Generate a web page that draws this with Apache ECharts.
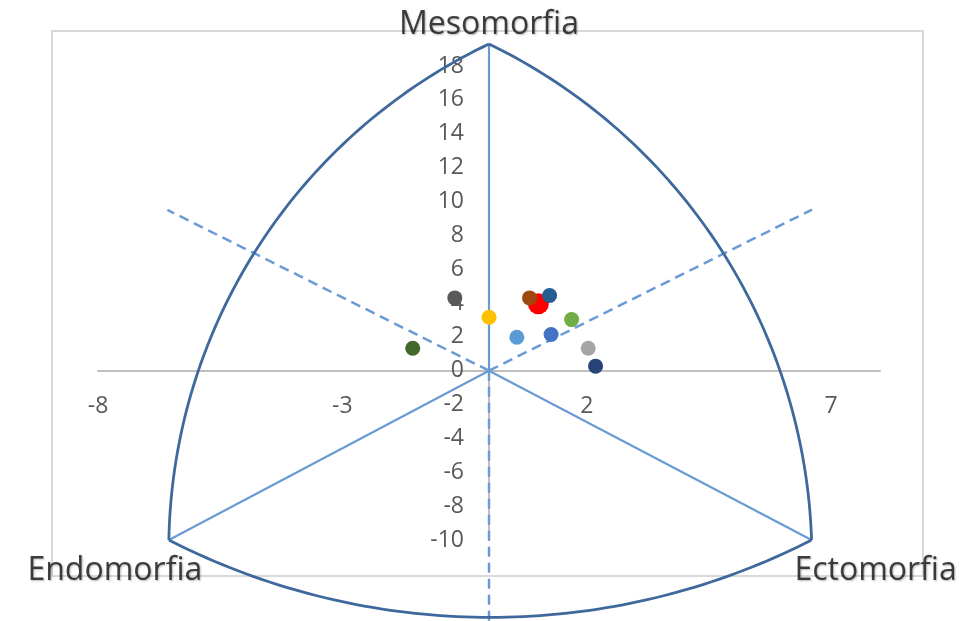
<!DOCTYPE html>
<html>
<head>
<meta charset="utf-8">
<title>Somatocarta</title>
<script src="https://cdn.jsdelivr.net/npm/echarts@6/dist/echarts.min.js"></script>
<style>
  html, body { margin: 0; padding: 0; background: #ffffff; }
  #chart { width: 961px; height: 621px; }
</style>
</head>
<body>
<div id="chart"></div>
<script>
// Somatotype points (x = ecto - endo, y = 2*meso - endo - ecto)
const subjectNames = ['Promedio', 'S1', 'S2', 'S3', 'S4', 'S5', 'S6', 'S7', 'S8', 'S9', 'S10'];
const subjectX = [1.01, -0.70, 0.00, -1.56, 0.83, 1.24, 0.57, 1.27, 1.69, 2.03, 2.18];
const subjectY = [3.95, 4.30, 3.16, 1.33, 4.30, 4.44, 1.98, 2.14, 3.02, 1.33, 0.27];

// Triangle vertices of the somatochart
const vertexNames = ['Mesomorfia', 'Endomorfia', 'Ectomorfia'];
const vertexX = [0, -6.55, 6.6];
const vertexY = [19.3, -10, -10];

// Dashed guide ends (from the origin)
const guideX = [-6.58, 6.61, 0];
const guideY = [9.5, 9.52, -15];

// Curved sides: start, a point on the side, end
const arcStart = [[0, 19.3], [-6.55, -10], [6.6, -10]];
const arcMid = [[-4.81, 6.93], [0, -14.57], [4.84, 6.73]];
const arcEnd = [[-6.55, -10], [6.6, -10], [0, 19.3]];

// Axis settings
const xMin = -8, xMax = 8, xStep = 5;
const yMin = -10, yMax = 18, yStep = 2;

// Styling
const pointColors = ['#FF0000', '#595959', '#FFC000', '#43682B', '#9E480E', '#255E91',
  '#5B9BD5', '#4472C4', '#70AD47', '#A5A5A5', '#264478'];
const arcColor = '#3F699C';
const innerColor = '#6A9BD3';
const axisGray = '#BFBFBF';
const labelGray = '#595959';
const fontFam = '"Open Sans", "Liberation Sans", sans-serif';

// Layout of the plotting grid
const gridLeft = 98, gridRight = 81, gridTop = 66, gridBottom = 81;
const W = 961, H = 621;
const plotW = W - gridLeft - gridRight, plotH = H - gridTop - gridBottom;
// shift the axes so they cross at (0, 0)
const xAxisShift = -plotH * (0 - yMin) / (yMax - yMin);
const yAxisShift = -plotW * (0 - xMin) / (xMax - xMin);

const chart = echarts.init(document.getElementById('chart'), null, { renderer: 'canvas' });

const seg = (x1, y1, x2, y2) => [[x1, y1], [x2, y2]];

const lineSeries = (data, color, width, type) => ({
  type: 'line',
  data: data,
  symbol: 'none',
  clip: false,
  silent: true,
  z: 3,
  lineStyle: { color: color, width: width, type: type || 'solid' }
});

// circular arc through three screen points
function arcPoints(p1, pm, p2) {
  const ax = p1[0], ay = p1[1], bx = pm[0], by = pm[1], cx = p2[0], cy = p2[1];
  const d = 2 * (ax * (by - cy) + bx * (cy - ay) + cx * (ay - by));
  const ux = ((ax * ax + ay * ay) * (by - cy) + (bx * bx + by * by) * (cy - ay) + (cx * cx + cy * cy) * (ay - by)) / d;
  const uy = ((ax * ax + ay * ay) * (cx - bx) + (bx * bx + by * by) * (ax - cx) + (cx * cx + cy * cy) * (bx - ax)) / d;
  const r = Math.hypot(ax - ux, ay - uy);
  const TAU = Math.PI * 2;
  const norm = a => ((a % TAU) + TAU) % TAU;
  const a1 = Math.atan2(ay - uy, ax - ux);
  const am = Math.atan2(by - uy, bx - ux);
  const a2 = Math.atan2(cy - uy, cx - ux);
  const d2 = norm(a2 - a1), dm = norm(am - a1);
  const sweep = dm < d2 ? d2 : d2 - TAU;
  const pts = [];
  const n = 80;
  for (let i = 0; i <= n; i++) {
    const a = a1 + sweep * i / n;
    pts.push([ux + r * Math.cos(a), uy + r * Math.sin(a)]);
  }
  return pts;
}

const series = [];
// solid spokes from the origin to each vertex
for (let i = 0; i < 3; i++) {
  series.push(lineSeries(seg(0, 0, vertexX[i], vertexY[i]), innerColor, 2.2));
}
// dashed guides
for (let i = 0; i < 3; i++) {
  series.push(lineSeries(seg(0, 0, guideX[i], guideY[i]), innerColor, 2.5, [10, 6]));
}
// curved outline
series.push({
  type: 'custom',
  silent: true,
  clip: false,
  z: 4,
  data: arcStart.map((s, i) => [s[0], s[1], arcMid[i][0], arcMid[i][1], arcEnd[i][0], arcEnd[i][1]]),
  encode: { x: [0, 2, 4], y: [1, 3, 5] },
  renderItem: function (params, api) {
    const p1 = api.coord([api.value(0), api.value(1)]);
    const pm = api.coord([api.value(2), api.value(3)]);
    const p2 = api.coord([api.value(4), api.value(5)]);
    return {
      type: 'polyline',
      shape: { points: arcPoints(p1, pm, p2) },
      style: { stroke: arcColor, lineWidth: 2.8, fill: null, lineJoin: 'round' }
    };
  }
});

// vertex labels
const vertexOffsets = [[0, -19], [-54, 31], [64, 31]];
series.push({
  type: 'scatter',
  symbolSize: 0,
  silent: true,
  clip: false,
  z: 6,
  data: vertexNames.map((n, i) => ({
    name: n,
    value: [vertexX[i], vertexY[i]],
    label: {
      show: true,
      position: 'inside',
      offset: vertexOffsets[i],
      formatter: n,
      fontFamily: fontFam,
      fontSize: 32,
      color: '#141414',
      textShadowColor: 'rgba(0,0,0,0.35)',
      textShadowBlur: 2,
      textShadowOffsetX: 1,
      textShadowOffsetY: 1
    }
  }))
});

// subjects
series.push({
  type: 'scatter',
  z: 5,
  clip: false,
  data: subjectNames.map((n, i) => ({
    name: n,
    value: [subjectX[i], subjectY[i]],
    symbolSize: i === 0 ? 21 : 15,
    itemStyle: { color: pointColors[i], opacity: 1 }
  }))
});

chart.setOption({
  animation: false,
  backgroundColor: '#ffffff',
  graphic: [{
    type: 'rect',
    z: 0,
    shape: { x: 52, y: 31, width: 871, height: 545 },
    style: { fill: 'none', stroke: '#D9D9D9', lineWidth: 2 }
  }],
  grid: { left: gridLeft, right: gridRight, top: gridTop, bottom: gridBottom, containLabel: false },
  xAxis: {
    type: 'value',
    position: 'bottom',
    offset: xAxisShift,
    min: xMin, max: xMax, interval: xStep,
    splitLine: { show: false },
    axisTick: { show: false },
    axisLine: { onZero: false, lineStyle: { color: axisGray, width: 2 } },
    axisLabel: {
      color: labelGray, fontSize: 23, fontFamily: fontFam, margin: 24,
      showMaxLabel: false,
      formatter: v => (v === xMax ? '' : String(v))
    },
    z: 1
  },
  yAxis: {
    type: 'value',
    position: 'left',
    offset: yAxisShift,
    min: yMin, max: yMax, interval: yStep,
    splitLine: { show: false },
    axisTick: { show: false },
    axisLine: { onZero: false, lineStyle: { color: axisGray, width: 2 } },
    axisLabel: { color: labelGray, fontSize: 23, fontFamily: fontFam, margin: 25 },
    z: 1
  },
  series: series
});
</script>
</body>
</html>
